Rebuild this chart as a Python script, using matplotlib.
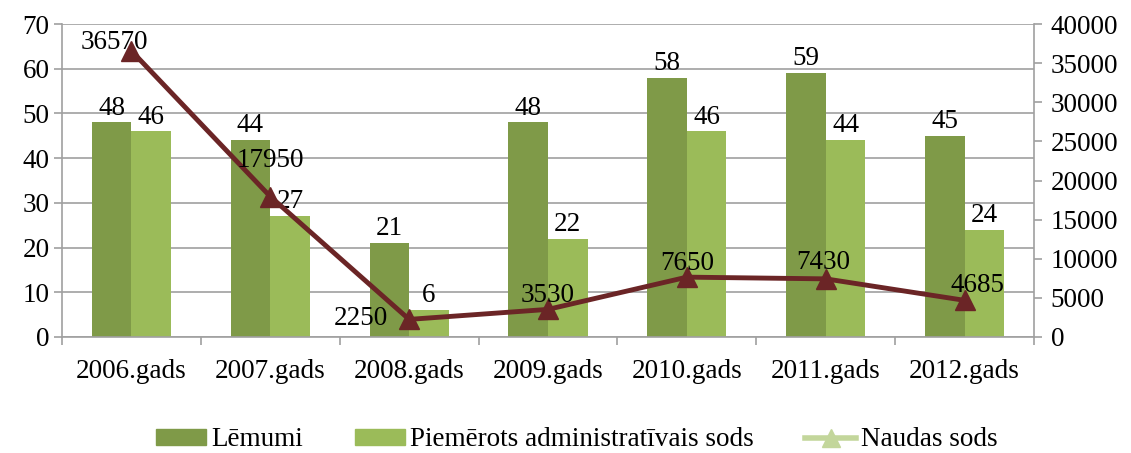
import numpy as np
import matplotlib.pyplot as plt
from matplotlib.lines import Line2D
from matplotlib.patches import Patch

plt.rcParams['font.family'] = ['Liberation Serif', 'DejaVu Serif']

years = ["2006.gads", "2007.gads", "2008.gads", "2009.gads", "2010.gads", "2011.gads", "2012.gads"]
lemumi = [48, 44, 21, 48, 58, 59, 45]
piemerots = [46, 27, 6, 22, 46, 44, 24]
naudas = [36570, 17950, 2250, 3530, 7650, 7430, 4685]
# label offsets for line values (points), hand placed like the original
naudas_off = [(-12, 6), (0, 26), (-35, 1), (0, 10), (0, 10), (-2, 12), (9, 11)]

DARK = "#7F9A48"
LIGHT = "#9BBB59"
LINE = "#6B2526"
GRID = "#A0A0A0"
FS = 19.5

fig = plt.figure(figsize=(11.31, 4.53), dpi=100)
ax = fig.add_axes([62 / 1131, 1 - 337 / 453, (1034 - 62) / 1131, (337 - 24) / 453])
axR = ax.twinx()

x = np.arange(len(years))
w = 0.285
ax.bar(x - w / 2, lemumi, w, color=DARK, zorder=2)
ax.bar(x + w / 2, piemerots, w, color=LIGHT, zorder=2)
for xi, v in zip(x, lemumi):
    ax.text(xi - w / 2, v + 0.4, str(v), ha="center", va="bottom", fontsize=FS)
for xi, v in zip(x, piemerots):
    ax.text(xi + w / 2, v + 0.4, str(v), ha="center", va="bottom", fontsize=FS)

axR.plot(x, naudas, "-^", color=LINE, lw=3.5, ms=15, zorder=4)
for xi, v, off in zip(x, naudas, naudas_off):
    axR.annotate(str(v), (xi, v), textcoords="offset points", xytext=off,
                 ha="center", va="center", fontsize=FS, zorder=5)

ax.set_xlim(-0.5, len(years) - 0.5)
ax.set_ylim(0, 70)
ax.set_yticks(range(0, 71, 10))
axR.set_ylim(0, 40000)
axR.set_yticks(range(0, 40001, 5000))
ax.yaxis.grid(True, color=GRID, lw=1.2, zorder=0)
ax.set_axisbelow(True)

ax.set_xticks(x)
ax.set_xticklabels(years)
ax.set_xticks(np.arange(-0.5, len(years)), minor=True)
ax.tick_params(axis="x", which="major", length=0, labelsize=FS, pad=16)
ax.tick_params(axis="x", which="minor", length=6, color=GRID, width=1.2)
ax.tick_params(axis="y", length=6, color=GRID, width=1.2, labelsize=FS, pad=3)
axR.tick_params(axis="y", length=6, color=GRID, width=1.2, labelsize=FS, pad=6)

for a in (ax, axR):
    for s in a.spines.values():
        s.set_visible(False)
for s in (ax.spines["left"], ax.spines["bottom"], axR.spines["right"]):
    s.set_visible(True)
    s.set_color(GRID)
    s.set_linewidth(1.2)

handles = [Patch(color=DARK), Patch(color=LIGHT),
           Line2D([], [], color="#C3D69B", lw=4, marker="^", ms=13)]
labels = ["Lēmumi", "Piemērots administratīvais sods", "Naudas sods"]
fig.legend(handles, labels, loc="center", bbox_to_anchor=(0.51, 13 / 453),
           ncol=3, frameon=False, fontsize=FS, handlelength=1.85, handleheight=0.55,
           handletextpad=0.2, columnspacing=1.9)

fig.savefig("out.png", dpi=100)
